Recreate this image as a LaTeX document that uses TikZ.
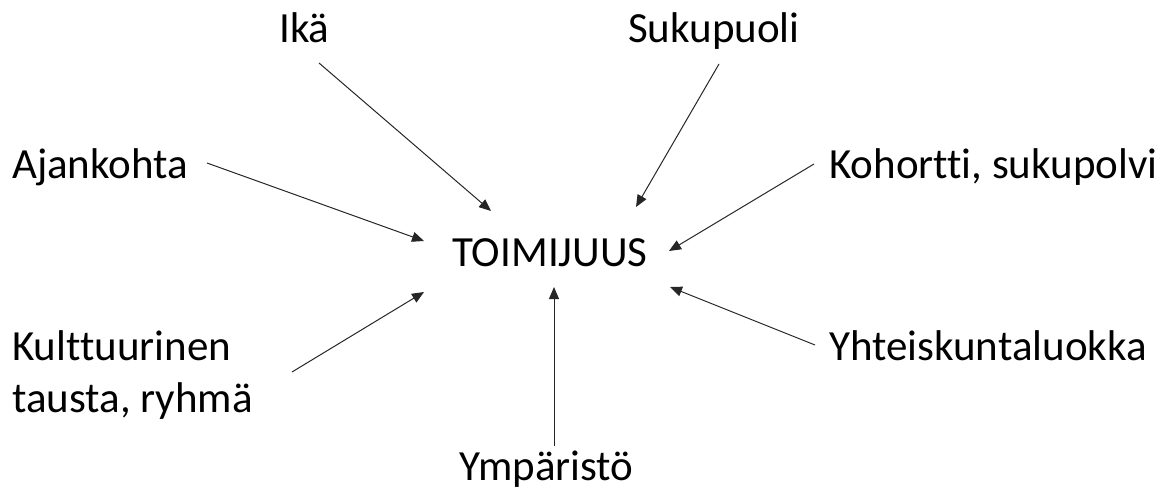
\documentclass[tikz,border=0pt]{standalone}
\usepackage{fontspec}
\setmainfont[Ligatures={NoCommon}]{Carlito}
\usetikzlibrary{arrows.meta}
\begin{document}
\begin{tikzpicture}[x=1pt,y=-1pt,
  lbl/.style={anchor=base west,inner sep=0pt,font=\fontsize{43}{52}\selectfont,align=left},
  conn/.style={line width=1pt,draw=black!85,-{Triangle[length=12pt,width=10pt]}}]
\useasboundingbox (0,0) rectangle (1175,500);
\node[lbl] (ika) at (279,43) {Ikä};
\node[lbl] (suku) at (628,43) {Sukupuoli};
\node[lbl] (ajan) at (12,178) {Ajankohta};
\node[lbl] (koh) at (829,178) {Kohortti, sukupolvi};
\node[lbl] (toim) at (452,266) {TOIMIJUUS};
\node[lbl] (kult) at (12,412) {Kulttuurinen\\tausta, ryhmä};
\node[lbl] (yht) at (829,360) {Yhteiskuntaluokka};
\node[lbl] (ymp) at (459,480) {Ympäristö};
\coordinate (s1) at (319,63);  \coordinate (e1) at (491,211);
\coordinate (s2) at (719,64);  \coordinate (e2) at (636,207);
\coordinate (s3) at (207,163); \coordinate (e3) at (424,241);
\coordinate (s4) at (814,164); \coordinate (e4) at (669,251);
\coordinate (s5) at (292,372); \coordinate (e5) at (424,292);
\coordinate (s6) at (815,345); \coordinate (e6) at (670,287);
\coordinate (s7) at (554,446); \coordinate (e7) at (554,287);
\draw[conn] (s1) -- (e1);
\draw[conn] (s2) -- (e2);
\draw[conn] (s3) -- (e3);
\draw[conn] (s4) -- (e4);
\draw[conn] (s5) -- (e5);
\draw[conn] (s6) -- (e6);
\draw[conn] (s7) -- (e7);
\end{tikzpicture}
\end{document}
